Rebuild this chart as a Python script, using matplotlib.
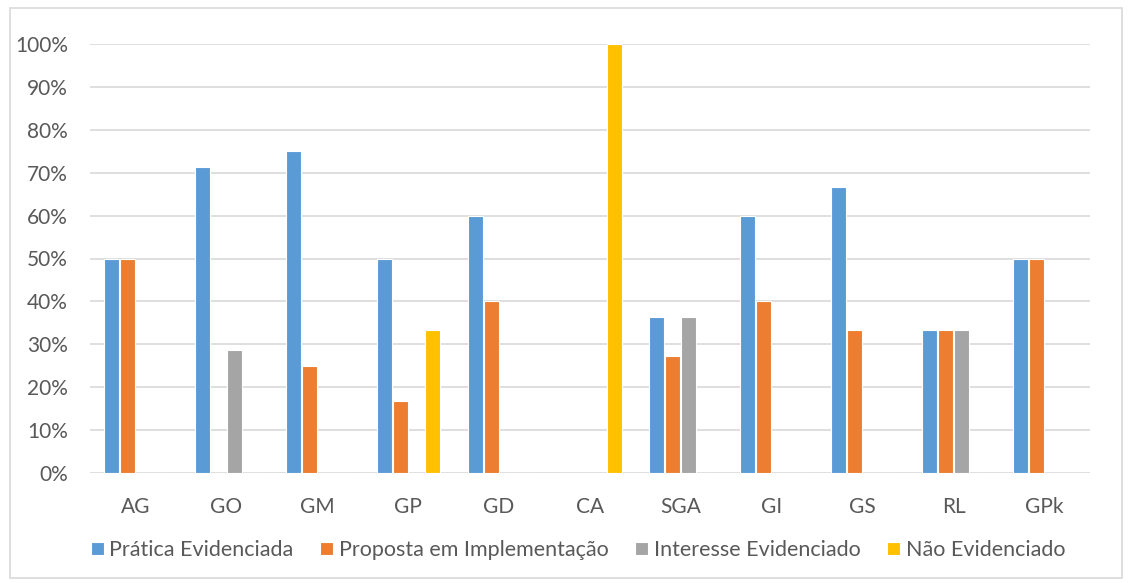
import numpy as np
import matplotlib.pyplot as plt
from matplotlib.patches import Rectangle
from matplotlib.ticker import PercentFormatter

plt.rcParams['font.family'] = ['Lato', 'DejaVu Sans']

categorias = ['AG', 'GO', 'GM', 'GP', 'GD', 'CA', 'SGA', 'GI', 'GS', 'RL', 'GPk']
series = ['Prática Evidenciada', 'Proposta em Implementação',
          'Interesse Evidenciado', 'Não Evidenciado']
cores = ['#5B9BD5', '#ED7D31', '#A5A5A5', '#FFC000']

pratica = [0.50, 0.714, 0.75, 0.50, 0.60, 0.0, 0.364, 0.60, 0.667, 0.333, 0.50]
proposta = [0.50, 0.0, 0.25, 0.167, 0.40, 0.0, 0.273, 0.40, 0.333, 0.333, 0.50]
interesse = [0.0, 0.286, 0.0, 0.0, 0.0, 0.0, 0.364, 0.0, 0.0, 0.333, 0.0]
nao_evid = [0.0, 0.0, 0.0, 0.333, 0.0, 1.0, 0.0, 0.0, 0.0, 0.0, 0.0]
valores = [pratica, proposta, interesse, nao_evid]

fig = plt.figure(figsize=(11.35, 5.83), dpi=100)
ax = fig.add_axes([90 / 1135, 1 - 473 / 583, 1000 / 1135, 429 / 583])

x = np.arange(len(categorias))
passo = 0.176
larg = 0.165
for k, (vals, nome, cor) in enumerate(zip(valores, series, cores)):
    ax.bar(x + (k - 1.5) * passo, vals, width=larg, color=cor,
           edgecolor='white', linewidth=0.8, label=nome, zorder=3)

ax.set_xlim(-0.5, len(categorias) - 0.5)
ax.set_ylim(0, 1.0)
ax.set_yticks(np.arange(0, 1.01, 0.1))
ax.yaxis.set_major_formatter(PercentFormatter(1.0, decimals=0))
ax.set_xticks(x)
ax.set_xticklabels(categorias)
ax.tick_params(axis='both', length=0, labelsize=15, colors='#595959')
ax.tick_params(axis='x', pad=17)
ax.tick_params(axis='y', pad=16)
ax.grid(axis='y', color='#D9D9D9', linewidth=1.2, zorder=0)
for s in ax.spines.values():
    s.set_visible(False)

leg = fig.legend(loc='center', bbox_to_anchor=(578 / 1135, 1 - 550 / 583),
                 ncol=4, frameon=False, fontsize=15.5, handlelength=0.6,
                 handleheight=0.6, handletextpad=0.25, columnspacing=1.25)
for t in leg.get_texts():
    t.set_color('#595959')

fig.patches.append(Rectangle((10 / 1135, 5 / 583), 1112 / 1135, 570 / 583,
                             transform=fig.transFigure, fill=False,
                             edgecolor='#D9D9D9', linewidth=1.2))

fig.savefig('out.png', dpi=100)
